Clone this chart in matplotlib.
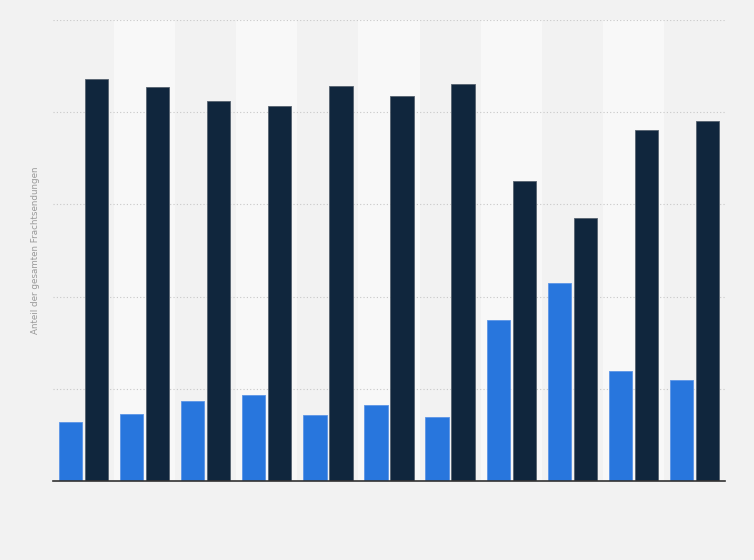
import matplotlib.pyplot as plt
import numpy as np

# Data (share of total freight shipments, %)
categories = list(range(11))
series_a = [12.8, 14.6, 17.4, 18.7, 14.3, 16.5, 13.9, 35.0, 43.0, 23.9, 22.0]
series_b = [87.2, 85.4, 82.4, 81.3, 85.7, 83.5, 86.1, 65.0, 57.0, 76.1, 78.0]

bg = '#f2f2f2'
fig = plt.figure(figsize=(7.54, 5.6), dpi=100, facecolor=bg)
ax = fig.add_axes([53 / 754, 1 - 481 / 560, 672 / 754, 461 / 560])
ax.set_facecolor(bg)

x = np.arange(len(categories))

# alternating column bands
for i in x:
    if i % 2 == 1:
        ax.axvspan(i - 0.5, i + 0.5, color='#f8f8f8', zorder=0, lw=0)

w = 0.38
off = 0.213
ax.bar(x - off, series_a, width=w, color='#2876dd', edgecolor='#5c95e6',
       linewidth=0.6, zorder=3)
ax.bar(x + off, series_b, width=w, color='#10263d', edgecolor='#56626f',
       linewidth=0.6, zorder=3)

ax.set_xlim(-0.5, len(categories) - 0.5)
ax.set_ylim(0, 100)
ax.set_yticks([0, 20, 40, 60, 80, 100])
ax.yaxis.grid(True, color='#c8c8c8', linestyle=(0, (1, 2)), linewidth=0.8, zorder=1)
ax.set_axisbelow(True)
ax.tick_params(left=False, bottom=False, labelleft=False, labelbottom=False)
for s in ['top', 'right', 'left']:
    ax.spines[s].set_visible(False)
ax.spines['bottom'].set_color('#333333')
ax.spines['bottom'].set_linewidth(1.2)
ax.spines['bottom'].set_zorder(4)

ax.set_ylabel('Anteil der gesamten Frachtsendungen', fontsize=6.3, color='#999999')
ax.yaxis.set_label_coords(-13 / 672, 0.5)

fig.savefig('out.png', dpi=100, facecolor=bg)
